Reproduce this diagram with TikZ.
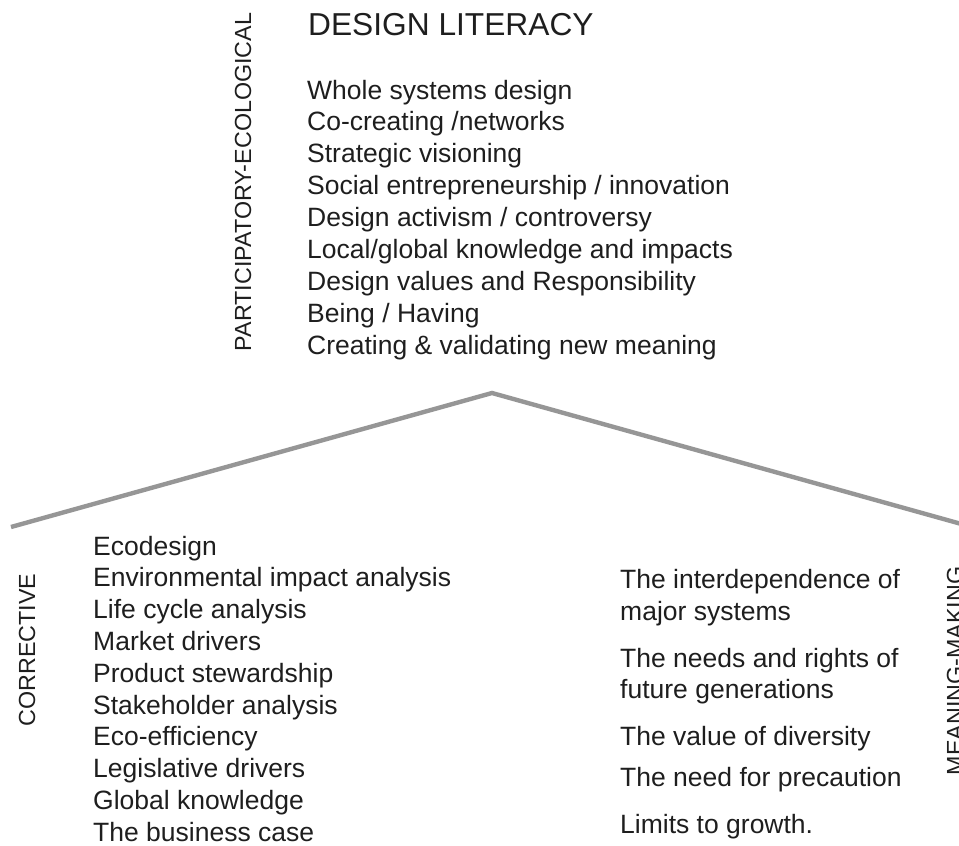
\documentclass[tikz,border=0pt]{standalone}
\usepackage{fontspec}
\setmainfont{Liberation Sans}
\definecolor{roofgray}{HTML}{969696}
\definecolor{inkgray}{HTML}{1E1E1E}
\begin{document}
\begin{tikzpicture}[x=1pt,y=-1pt,
  item/.style={anchor=base west, inner sep=0pt, text=inkgray, font=\fontsize{26.5}{31.8}\selectfont},
  heading/.style={anchor=base west, inner sep=0pt, text=inkgray, font=\fontsize{31.7}{38}\selectfont},
  side/.style={inner sep=0pt, rotate=90, text=inkgray, font=\fontsize{23.3}{28}\selectfont},
  roof/.style={draw=roofgray, line width=4.4pt}]
\useasboundingbox (0,0) rectangle (959,846);

% roof lines
\coordinate (apex) at (492,393);
\coordinate (leftend) at (11,527);
\coordinate (rightend) at (965,525);
\draw[roof] (leftend) -- (apex) -- (rightend);

% vertical labels
\node[side] (pe) at (243,182) {PARTICIPATORY-ECOLOGICAL};
\node[side] (corr) at (27,650) {CORRECTIVE};
\node[side] (mm) at (955,671) {MEANING-MAKING};

% top block
\node[heading] (title) at (308,35) {DESIGN LITERACY};
\foreach \t [count=\i from 0] in {Whole systems design,
  Co-creating /networks,
  Strategic visioning,
  Social entrepreneurship / innovation,
  Design activism / controversy,
  Local/global knowledge and impacts,
  Design values and Responsibility,
  Being / Having,
  Creating \& validating new meaning}
  \node[item] (top\i) at (307,99+31.9*\i) {\t};

% left block
\foreach \t [count=\i from 0] in {Ecodesign,
  Environmental impact analysis,
  Life cycle analysis,
  Market drivers,
  Product stewardship,
  Stakeholder analysis,
  Eco-efficiency,
  Legislative drivers,
  Global knowledge,
  The business case}
  \node[item] (left\i) at (93,555+31.8*\i) {\t};

% right block
\node[item] (r1) at (620,588) {The interdependence of};
\node[item] (r2) at (620,620) {major systems};
\node[item] (r3) at (620,667) {The needs and rights of};
\node[item] (r4) at (620,698) {future generations};
\node[item] (r5) at (620,745) {The value of diversity};
\node[item] (r6) at (620,786) {The need for precaution};
\node[item] (r7) at (620,833) {Limits to growth.};
\end{tikzpicture}
\end{document}
